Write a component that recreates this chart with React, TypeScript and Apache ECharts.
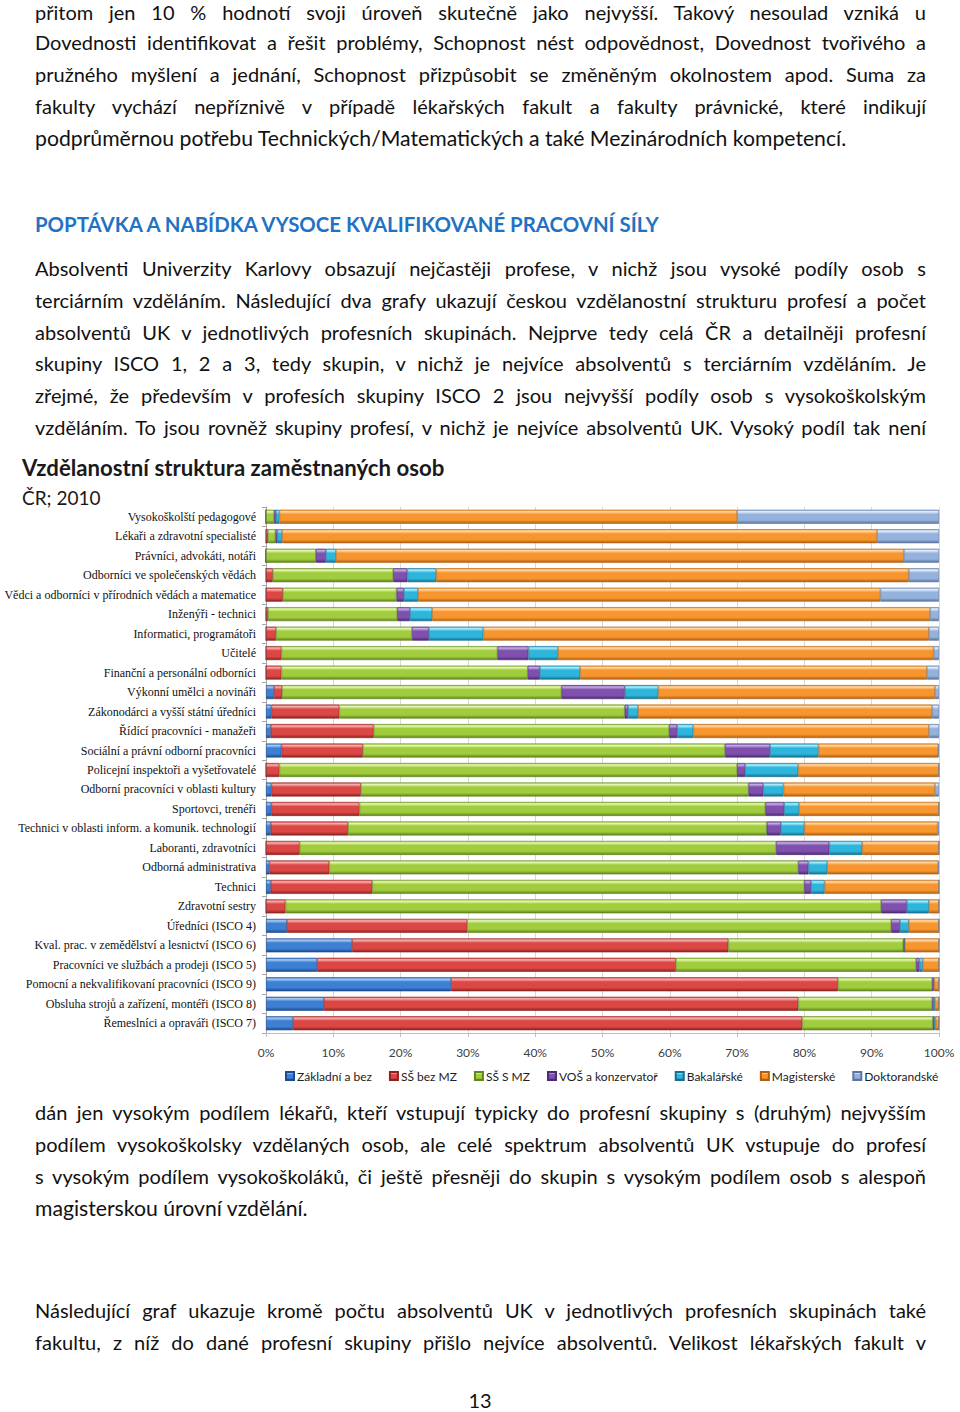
import React, { useEffect, useRef } from "react";
import * as echarts from "echarts";

const categories = [
  "Vysokoškolští pedagogové",
  "Lékaři a zdravotní specialisté",
  "Právníci, advokáti, notáři",
  "Odborníci ve společenských vědách",
  "Vědci a odborníci v přírodních vědách a matematice",
  "Inženýři - technici",
  "Informatici, programátoři",
  "Učitelé",
  "Finanční a personální odborníci",
  "Výkonní umělci a novináři",
  "Zákonodárci a vyšší státní úředníci",
  "Řídící pracovníci - manažeři",
  "Sociální a právní odborní pracovníci",
  "Policejní inspektoři a vyšetřovatelé",
  "Odborní pracovníci v oblasti kultury",
  "Sportovci, trenéři",
  "Technici v oblasti inform. a komunik. technologií",
  "Laboranti, zdravotníci",
  "Odborná administrativa",
  "Technici",
  "Zdravotní sestry",
  "Úředníci (ISCO 4)",
  "Kval. prac. v zemědělství a lesnictví (ISCO 6)",
  "Pracovníci ve službách a prodeji (ISCO 5)",
  "Pomocní a nekvalifikovaní pracovníci (ISCO 9)",
  "Obsluha strojů a zařízení, montéři (ISCO 8)",
  "Řemeslníci a opraváři (ISCO 7)",
];

const zakladni = [0, 0, 0, 0, 0, 0, 0, 0, 0, 1.2, 0.8, 0.7, 2.3, 0, 0.8, 0.8, 0.7, 0, 0.5, 0.7, 0, 3.1, 12.8, 7.6, 27.5, 8.6, 4.0];
const ssBezMZ = [0, 0.3, 0, 1.0, 2.5, 0.3, 1.5, 2.3, 2.3, 1.2, 10.1, 15.3, 12.1, 2.0, 13.3, 13.1, 11.5, 5.0, 8.9, 15.1, 2.9, 26.8, 55.9, 53.3, 57.5, 70.5, 75.7];
const ssSMZ = [1.2, 1.1, 7.4, 17.9, 16.9, 19.2, 20.2, 32.1, 36.6, 41.5, 42.4, 43.9, 53.8, 68.0, 57.6, 60.3, 62.2, 70.8, 69.7, 64.2, 88.5, 63.0, 26.0, 35.7, 14.0, 19.9, 19.4];
const vos = [0.3, 0.3, 1.5, 2.1, 1.1, 1.9, 2.5, 4.6, 1.8, 9.4, 0.5, 1.2, 6.7, 1.2, 2.2, 2.8, 2.1, 7.9, 1.5, 1.0, 3.8, 1.3, 0.2, 0.5, 0.2, 0.2, 0.2];
const bakalarske = [0.5, 0.7, 1.5, 4.3, 2.1, 3.3, 8.1, 4.4, 6.0, 5.0, 1.5, 2.4, 7.2, 7.9, 3.0, 2.2, 3.5, 4.9, 2.8, 2.0, 3.3, 1.3, 0, 0.5, 0.1, 0.2, 0.2];
const magisterske = [68.0, 88.4, 84.4, 70.2, 68.7, 74.0, 66.2, 55.8, 51.5, 41.1, 43.7, 35.0, 17.8, 20.9, 22.5, 20.8, 19.8, 11.4, 16.5, 17.0, 1.5, 4.5, 5.1, 2.4, 0.7, 0.6, 0.5];
const doktorandske = [30.0, 9.2, 5.2, 4.5, 8.7, 1.3, 1.5, 0.8, 1.8, 0.6, 1.0, 1.5, 0.1, 0, 0.6, 0, 0.2, 0, 0.1, 0, 0, 0, 0, 0, 0, 0, 0];

const seriesNames = ["Základní a bez", "SŠ bez MZ", "SŠ S MZ", "VOŠ a konzervatoř", "Bakalářské", "Magisterské", "Doktorandské"];
const seriesData = [zakladni, ssBezMZ, ssSMZ, vos, bakalarske, magisterske, doktorandske];
const xTicks = [0, 10, 20, 30, 40, 50, 60, 70, 80, 90, 100];

const shades = [
  ["#a9cbf3", "#3d7fd2", "#1d4a8e"],
  ["#f7b2b0", "#db4745", "#8e2220"],
  ["#e6f7b5", "#a0cc3e", "#5f851c"],
  ["#c6b0e2", "#7f50ae", "#4a2a73"],
  ["#b0ecf9", "#2eb5dc", "#14708e"],
  ["#fed9a8", "#f7962f", "#b06012"],
  ["#e4eefa", "#94b2dc", "#5a75a0"],
];

const para1 = [
  "přitom jen 10 % hodnotí svoji úroveň skutečně jako nejvyšší. Takový nesoulad vzniká u",
  "Dovednosti identifikovat a řešit problémy, Schopnost nést odpovědnost, Dovednost tvořivého a",
  "pružného myšlení a jednání, Schopnost přizpůsobit se změněným okolnostem apod. Suma za",
  "fakulty vychází nepříznivě v případě lékařských fakult a fakulty právnické, které indikují",
  "podprůměrnou potřebu Technických/Matematických a také Mezinárodních kompetencí.",
];
const para2 = [
  "Absolventi Univerzity Karlovy obsazují nejčastěji profese, v nichž jsou vysoké podíly osob s",
  "terciárním vzděláním. Následující dva grafy ukazují českou vzdělanostní strukturu profesí a počet",
  "absolventů UK v jednotlivých profesních skupinách. Nejprve tedy celá ČR a detailněji profesní",
  "skupiny ISCO 1, 2 a 3, tedy skupin, v nichž je nejvíce absolventů s terciárním vzděláním. Je",
  "zřejmé, že především v profesích skupiny ISCO 2 jsou nejvyšší podíly osob s vysokoškolským",
  "vzděláním. To jsou rovněž skupiny profesí, v nichž je nejvíce absolventů UK. Vysoký podíl tak není",
];
const para3 = [
  "dán jen vysokým podílem lékařů, kteří vstupují typicky do profesní skupiny s (druhým) nejvyšším",
  "podílem vysokoškolsky vzdělaných osob, ale celé spektrum absolventů UK vstupuje do profesí",
  "s vysokým podílem vysokoškoláků, či ještě přesněji do skupin s vysokým podílem osob s alespoň",
  "magisterskou úrovní vzdělání.",
];
const para4 = [
  "Následující graf ukazuje kromě počtu absolventů UK v jednotlivých profesních skupinách také",
  "fakultu, z níž do dané profesní skupiny přišlo nejvíce absolventů. Velikost lékařských fakult v",
];

function Line({ y, text, justify }: { y: number; text: string; justify: boolean }) {
  return (
    <div
      style={{
        position: "absolute",
        left: 35,
        width: 891,
        top: y - 12,
        height: 24,
        lineHeight: "24px",
        fontSize: justify ? 20 : 21.2,
        textAlign: justify ? "justify" : "left",
        textAlignLast: justify ? "justify" : "left",
        whiteSpace: "normal",
      } as React.CSSProperties}
    >
      {text}
    </div>
  );
}

export default function App() {
  const ref = useRef<HTMLDivElement>(null);
  useEffect(() => {
    const chart = echarts.init(ref.current!, null, { renderer: "svg" });
    chart.setOption({
      animation: false,
      title: [
        { text: "Vzdělanostní struktura zaměstnaných osob", left: 22, top: 6, padding: 0, textStyle: { fontFamily: "Lato", fontWeight: "bold", fontSize: 22.2, color: "#1a1a1a" } },
        { text: "ČR; 2010", left: 22, top: 38, padding: 0, textStyle: { fontFamily: "Lato", fontWeight: "normal", fontSize: 19, color: "#1a1a1a" } },
      ],
      legend: {
        bottom: 8,
        left: 280,
        itemWidth: 8,
        itemHeight: 8,
        itemGap: 17,
        icon: "rect",
        textStyle: { fontFamily: "Lato", fontSize: 12, color: "#222", padding: [0, 0, 0, -2] },
        data: seriesNames,
      },
      grid: { left: 266, right: 21, top: 57, bottom: 62, containLabel: false },
      xAxis: {
        type: "value",
        min: 0,
        max: 100,
        interval: 10,
        axisLabel: { formatter: (v: number) => (xTicks.includes(v) ? v + "%" : ""), fontFamily: "Lato", fontSize: 12, color: "#404040", margin: 13 },
        splitLine: { show: true, lineStyle: { color: "#d9d9d9" } },
        axisLine: { show: true, lineStyle: { color: "#bfbfbf" } },
        axisTick: { show: true, length: 4, lineStyle: { color: "#bfbfbf" } },
      },
      yAxis: {
        type: "category",
        inverse: true,
        data: categories,
        axisLabel: { fontFamily: "Liberation Serif", fontSize: 12, color: "#111", margin: 10 },
        axisLine: { show: true, lineStyle: { color: "#a6a6a6" } },
        axisTick: { show: true, length: 4, lineStyle: { color: "#a6a6a6" } },
      },
      series: seriesData.map((d, i) => ({
        name: seriesNames[i],
        type: "bar",
        stack: "total",
        data: d,
        barWidth: 14,
        itemStyle: {
          color: new echarts.graphic.LinearGradient(0, 0, 0, 1, [
            { offset: 0, color: shades[i][1] },
            { offset: 0.12, color: shades[i][0] },
            { offset: 0.32, color: shades[i][1] },
            { offset: 0.75, color: shades[i][1] },
            { offset: 1, color: shades[i][2] },
          ]),
          borderColor: shades[i][2],
          borderWidth: 0.6,
        },
        emphasis: { disabled: true },
      })),
    });
    return () => chart.dispose();
  }, []);

  return (
    <div
      style={{
        position: "absolute",
        left: 0,
        top: 0,
        width: 960,
        height: 1412,
        background: "#fff",
        overflow: "hidden",
        fontFamily: "Lato, 'Noto Sans', sans-serif",
        color: "#111",
      }}
    >
      {para1.map((t, i) => (
        <Line key={"a" + i} y={i === 0 ? 12 : 10 + i * 32} text={t} justify={i < para1.length - 1} />
      ))}
      <div style={{ position: "absolute", left: 35, top: 212, height: 24, lineHeight: "24px", fontSize: 20.4, fontWeight: "bold", color: "#1f72c4" }}>
        POPTÁVKA A NABÍDKA VYSOCE KVALIFIKOVANÉ PRACOVNÍ SÍLY
      </div>
      {para2.map((t, i) => (
        <Line key={"b" + i} y={268 + i * 31.8} text={t} justify={true} />
      ))}
      <div ref={ref} style={{ position: "absolute", left: 0, top: 450, width: 960, height: 645 }} />
      {para3.map((t, i) => (
        <Line key={"c" + i} y={1112 + i * 32} text={t} justify={i < para3.length - 1} />
      ))}
      {para4.map((t, i) => (
        <Line key={"d" + i} y={1310 + i * 32} text={t} justify={true} />
      ))}
      <div style={{ position: "absolute", left: 0, width: 960, top: 1388, height: 24, lineHeight: "24px", fontSize: 20, textAlign: "center" }}>13</div>
    </div>
  );
}
